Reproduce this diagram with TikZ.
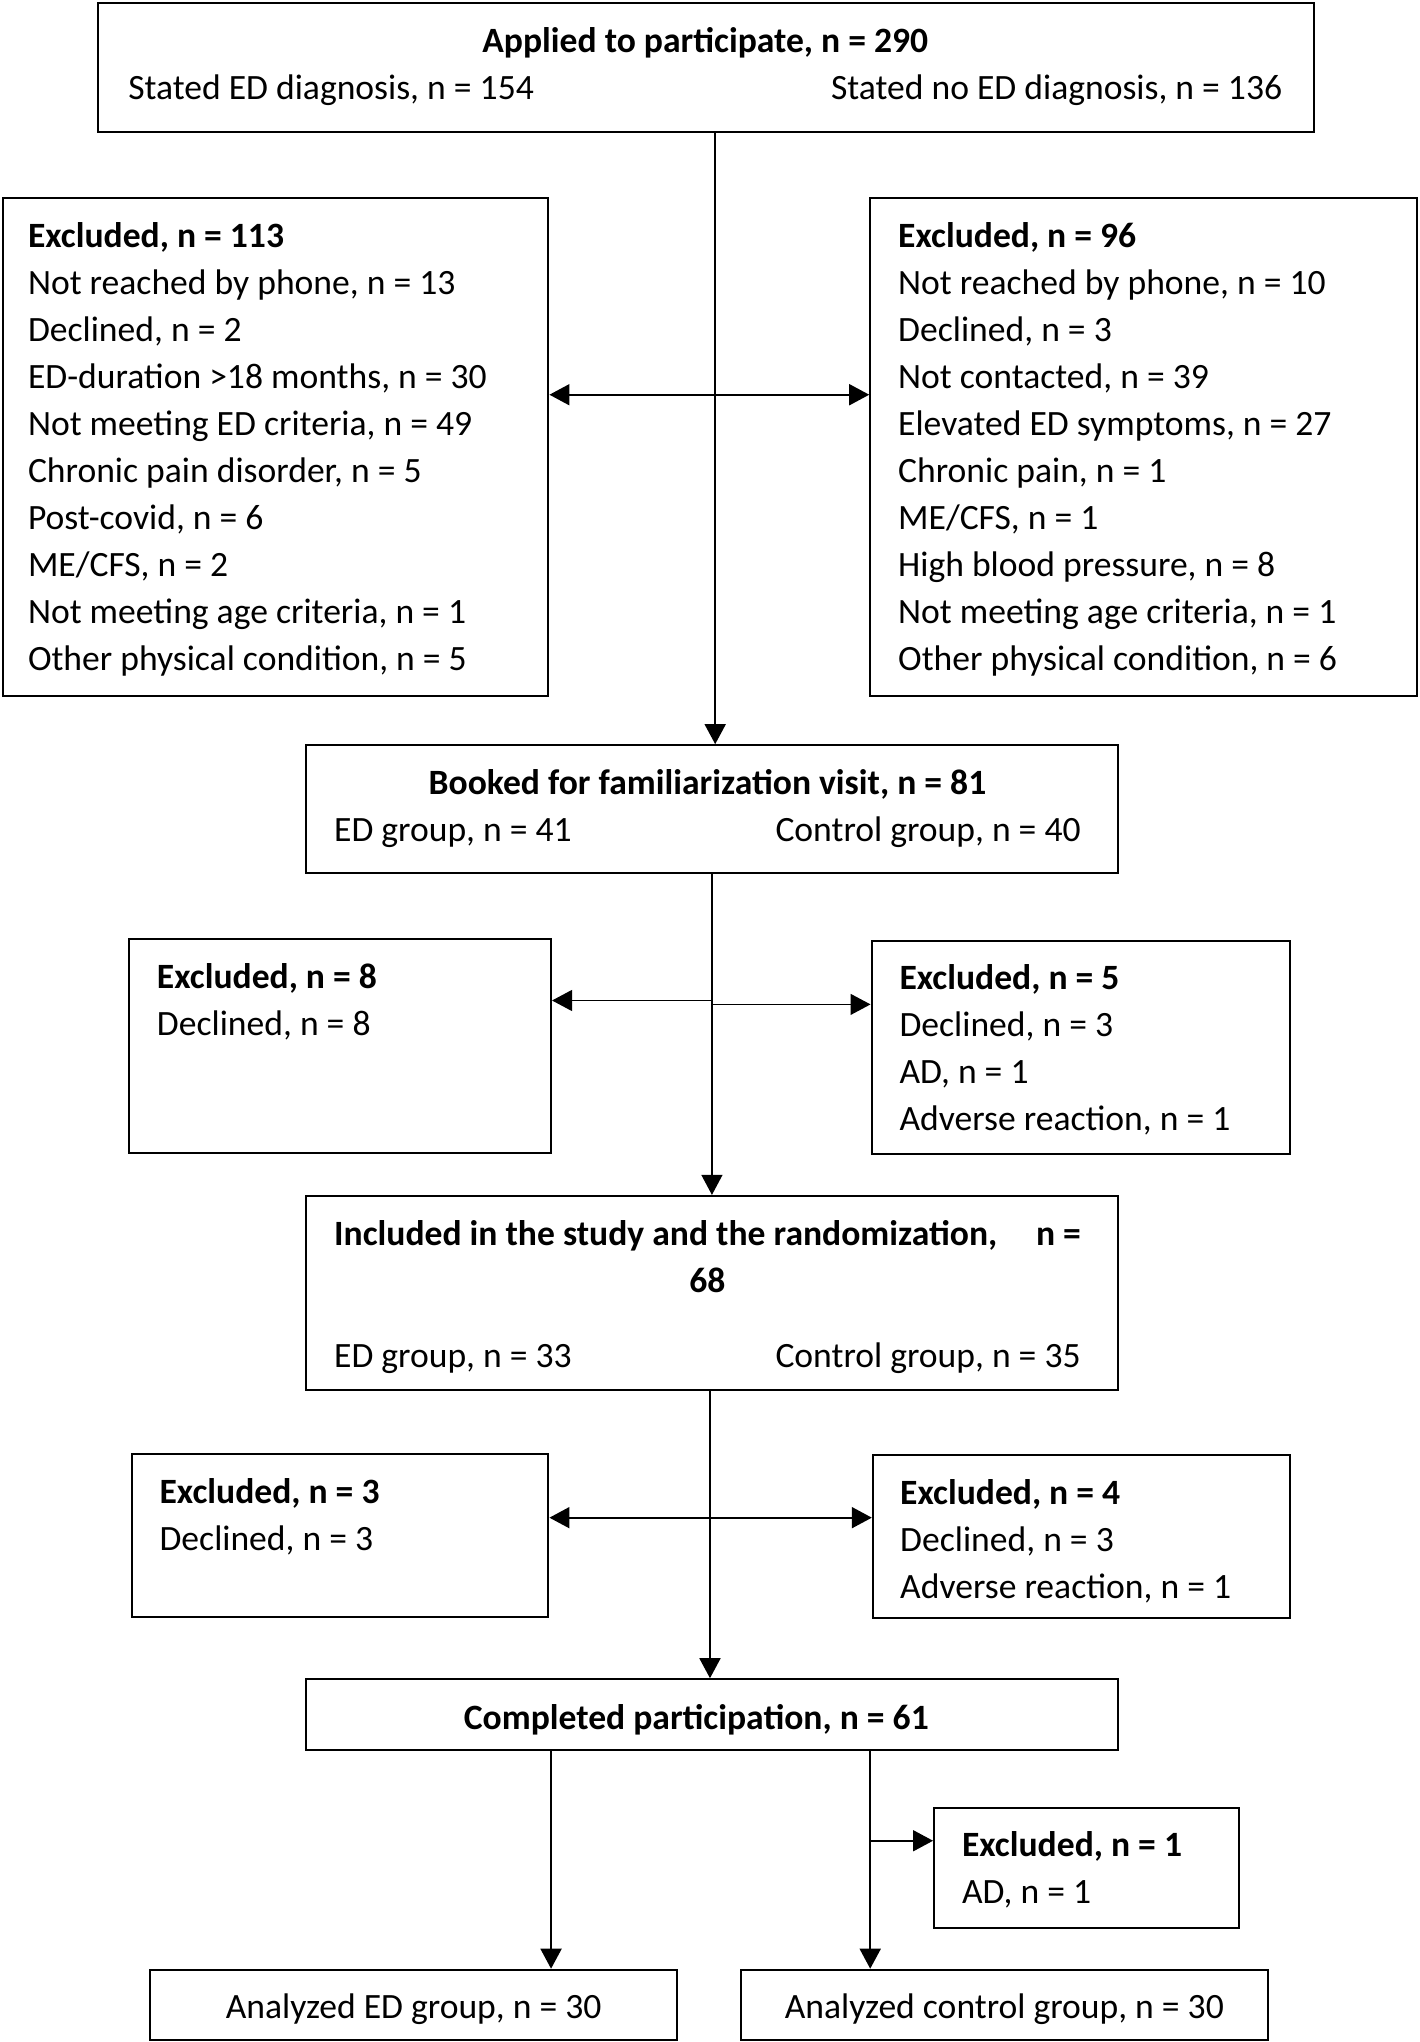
\documentclass[tikz,border=0pt]{standalone}
\usepackage{fontspec}
\setmainfont{Carlito}
\usetikzlibrary{arrows.meta,positioning,fit}

\tikzset{
	box/.style={draw, line width=1pt, inner sep=0pt},
	txt/.style={inner sep=0pt, align=left, font=\fontsize{17.8pt}{23.5pt}\selectfont,
		execute at begin node={\rule{0pt}{16.45pt}}},
	arr/.style={line width=0.9pt, -{Triangle[length=10pt,width=10.5pt]}},
	arrs/.style={line width=0.9pt, {Triangle[length=10pt,width=10.5pt]}-{Triangle[length=10pt,width=10.5pt]}},
}

\begin{document}
\begin{tikzpicture}[x=0.6514pt, y=-0.6514pt]

% frame %{{{2

	\useasboundingbox (0,0) rectangle (1090,1567.5);

% boxes %{{{2

	\node[box, fit={(75,2) (1009,101)}] (apply) {};
	\node[box, fit={(2,152) (421,534)}] (exA) {};
	\node[box, fit={(668,152) (1088,534)}] (exB) {};
	\node[box, fit={(235,572) (858,670)}] (book) {};
	\node[box, fit={(99,721) (423,885)}] (exC) {};
	\node[box, fit={(669,722) (990,886)}] (exD) {};
	\node[box, fit={(235,918) (858,1067)}] (incl) {};
	\node[box, fit={(101,1116) (421,1241)}] (exE) {};
	\node[box, fit={(670,1117) (990,1242)}] (exF) {};
	\node[box, fit={(235,1289) (858,1343)}] (done) {};
	\node[box, fit={(717,1388) (951,1480)}] (exG) {};
	\node[box, fit={(115,1512) (520,1566)}] (anaED) {};
	\node[box, fit={(569,1512) (973,1566)}] (anaCtrl) {};

% texts %{{{2

	\node[txt, align=center, below right=12.5pt and 15.6pt of apply.north west] (apply-t)
		{\textbf{Applied to participate, n = 290}\\
		\makebox[577pt]{Stated ED diagnosis, n = 154\hfill Stated no ED diagnosis, n = 136}};

	\node[txt, below right=12.5pt and 13pt of exA.north west] (exA-t)
		{\textbf{Excluded, n = 113}\\
		Not reached by phone, n = 13\\
		Declined, n = 2\\
		ED-duration >18 months, n = 30\\
		Not meeting ED criteria, n = 49\\
		Chronic pain disorder, n = 5\\
		Post-covid, n = 6\\
		ME/CFS, n = 2\\
		Not meeting age criteria, n = 1\\
		Other physical condition, n = 5};

	\node[txt, below right=12.5pt and 14.3pt of exB.north west] (exB-t)
		{\textbf{Excluded, n = 96}\\
		Not reached by phone, n = 10\\
		Declined, n = 3\\
		Not contacted, n = 39\\
		Elevated ED symptoms, n = 27\\
		Chronic pain, n = 1\\
		ME/CFS, n = 1\\
		High blood pressure, n = 8\\
		Not meeting age criteria, n = 1\\
		Other physical condition, n = 6};

	\node[txt, align=center, below right=12.4pt and 14.3pt of book.north west] (book-t)
		{\textbf{Booked for familiarization visit, n = 81}\\
		\makebox[373.3pt]{ED group, n = 41\hfill Control group, n = 40}};

	\node[txt, below right=12.4pt and 14.3pt of exC.north west] (exC-t)
		{\textbf{Excluded, n = 8}\\
		Declined, n = 8};

	\node[txt, below right=12.4pt and 14.3pt of exD.north west] (exD-t)
		{\textbf{Excluded, n = 5}\\
		Declined, n = 3\\
		AD, n = 1\\
		Adverse reaction, n = 1};

	\node[txt, align=center, below right=12.5pt and 14.3pt of incl.north west] (incl-t)
		{\makebox[373.3pt]{\textbf{Included in the study and the randomization,}\hfill\textbf{n =}}\\
		\textbf{68}\\[14.3pt]
		\makebox[373.3pt]{ED group, n = 33\hfill Control group, n = 35}};

	\node[txt, below right=12.4pt and 14.3pt of exE.north west] (exE-t)
		{\textbf{Excluded, n = 3}\\
		Declined, n = 3};

	\node[txt, below right=12.4pt and 14pt of exF.north west] (exF-t)
		{\textbf{Excluded, n = 4}\\
		Declined, n = 3\\
		Adverse reaction, n = 1};

	\node[txt, below=9pt of done.north, xshift=-7.8pt] (done-t) {\textbf{Completed participation, n = 61}};

	\node[txt, below right=12pt and 14.3pt of exG.north west] (exG-t)
		{\textbf{Excluded, n = 1}\\
		AD, n = 1};

	\node[txt, below=8.3pt of anaED.north] (anaED-t) {Analyzed ED group, n = 30};
	\node[txt, below=8.3pt of anaCtrl.north] (anaCtrl-t) {Analyzed control group, n = 30};

% connectors %{{{2

	\coordinate (jA) at (549,303);
	\coordinate (jB) at (546.5,768);
	\coordinate (jC) at (546.5,771);
	\coordinate (jD) at (545,1165);
	\coordinate (kA) at (423,1413);
	\coordinate (kB) at (668,1413);

	\draw[arr] (apply.south -| jA) -- (book.north -| jA);
	\draw[arrs] (exA.east |- jA) -- (exB.west |- jA);

	\draw[arr, line width=0.6pt] (book.south -| jB) -- (incl.north -| jB);
	\draw[arr, line width=0.6pt] (jB) -- (exC.east |- jB);
	\draw[arr, line width=0.6pt] (jC) -- (exD.west |- jC);

	\draw[arr] (incl.south -| jD) -- (done.north -| jD);
	\draw[arr] (jD) -- (exE.east |- jD);
	\draw[arr] (jD) -- (exF.west |- jD);

	\draw[arr] (done.south -| kA) -- (anaED.north -| kA);
	\draw[arr] (done.south -| kB) -- (anaCtrl.north -| kB);
	\draw[arr] (kB) -- (exG.west |- kB);

% closing %{{{2

\end{tikzpicture}
\end{document}
